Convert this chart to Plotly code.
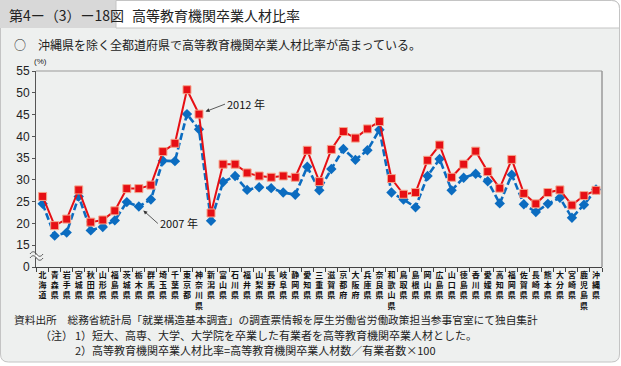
import plotly.graph_objects as go

prefectures = ["北海道", "青森県", "岩手県", "宮城県", "秋田県", "山形県", "福島県", "茨城県", "栃木県", "群馬県",
               "埼玉県", "千葉県", "東京都", "神奈川県", "新潟県", "富山県", "石川県", "福井県", "山梨県", "長野県",
               "岐阜県", "静岡県", "愛知県", "三重県", "滋賀県", "京都府", "大阪府", "兵庫県", "奈良県", "和歌山県",
               "鳥取県", "島根県", "岡山県", "広島県", "山口県", "徳島県", "香川県", "愛媛県", "高知県", "福岡県",
               "佐賀県", "長崎県", "熊本県", "大分県", "宮崎県", "鹿児島県", "沖縄県"]

rate_2012 = [26.2, 19.5, 21.0, 27.7, 20.3, 20.8, 22.9, 28.0, 28.0, 28.8,
             36.5, 38.4, 50.7, 45.1, 22.4, 33.6, 33.6, 31.6, 30.9, 30.6,
             30.9, 30.6, 36.8, 29.6, 37.0, 41.1, 39.6, 41.7, 43.4, 30.3,
             26.7, 27.1, 34.5, 38.0, 30.6, 33.6, 36.6, 31.9, 28.1, 34.7,
             26.9, 24.5, 27.1, 27.7, 24.2, 26.4, 27.6]

rate_2007 = [24.5, 17.2, 17.9, 26.2, 18.4, 19.2, 20.7, 24.9, 23.9, 25.5,
             34.4, 34.3, 45.1, 41.6, 20.6, 29.5, 30.9, 27.7, 28.3, 28.1,
             27.1, 26.6, 33.0, 27.6, 32.5, 37.1, 34.6, 36.8, 41.5, 27.1,
             25.5, 23.7, 30.9, 34.8, 27.6, 30.5, 31.4, 29.7, 24.6, 31.2,
             24.4, 22.6, 24.5, 25.9, 21.3, 24.3, 27.8]

# axis is broken: the bottom tick (shown as 0) sits where 10 would be
ytick_vals = [10, 15, 20, 25, 30, 35, 40, 45, 50, 55]
ytick_text = ["0", "15", "20", "25", "30", "35", "40", "45", "50", "55"]

# vertical (stacked) category labels
xtick_text = ["<br>".join(list(p)) for p in prefectures]

title_no = "第4ー（3）ー18図"
title_text = "高等教育機関卒業人材比率"
subtitle = "○　沖縄県を除く全都道府県で高等教育機関卒業人材比率が高まっている。"
source = "資料出所　総務省統計局「就業構造基本調査」の調査票情報を厚生労働省労働政策担当参事官室にて独自集計"
note_head = "（注）"
note1 = "1）短大、高専、大学、大学院を卒業した有業者を高等教育機関卒業人材とした。"
note2 = "2）高等教育機関卒業人材比率=高等教育機関卒業人材数／有業者数×100"

W, H = 621, 366
L, R, T, B = 36, 19, 71, 99
PW, PH = W - L - R, H - T - B


def px(x):
    return (x - L) / PW


def py(y):
    return 1 - (y - T) / PH


JP = "Noto Sans CJK JP"
BG = "#eef0ef"

fig = go.Figure()

fig.add_trace(go.Scatter(
    x=prefectures, y=rate_2007, mode="lines+markers", name="2007年",
    line=dict(color="#0b6cc0", width=2.6, dash="7px,3px"),
    marker=dict(symbol="diamond", size=8, color="#0b6cc0"),
    showlegend=False))
fig.add_trace(go.Scatter(
    x=prefectures, y=rate_2012, mode="lines+markers", name="2012年",
    line=dict(color="#e60f14", width=2),
    marker=dict(symbol="square", size=8, color="#e60f14", line=dict(color="#f5a58c", width=1)),
    showlegend=False))

shapes = []
# body frame
x0, x1, y0, y1, r = 0.5, 619.5, 0.5, 362, 8
body = (f"M {px(x0)},{py(y0)} L {px(x1 - r)},{py(y0)} Q {px(x1)},{py(y0)} {px(x1)},{py(y0 + r)} "
        f"L {px(x1)},{py(y1 - r)} Q {px(x1)},{py(y1)} {px(x1 - r)},{py(y1)} "
        f"L {px(x0 + r)},{py(y1)} Q {px(x0)},{py(y1)} {px(x0)},{py(y1 - r)} Z")
shapes.append(dict(type="path", xref="paper", yref="paper", path=body,
                   fillcolor=BG, line=dict(color="#c4c4c4", width=1), layer="below"))
# title tab
shapes.append(dict(type="rect", xref="paper", yref="paper", x0=px(0), x1=px(116), y0=py(0), y1=py(28),
                   fillcolor="#d8d8d8", line=dict(width=0), layer="below"))
tb = (f"M {px(116)},{py(0.5)} L {px(x1 - r)},{py(0.5)} Q {px(x1)},{py(0.5)} {px(x1)},{py(0.5 + r)} "
      f"L {px(x1)},{py(28)} L {px(116)},{py(28)} Z")
shapes.append(dict(type="path", xref="paper", yref="paper", path=tb,
                   fillcolor="white", line=dict(color="#c4c4c4", width=1), layer="below"))
# plot border top and right
shapes.append(dict(type="line", xref="paper", yref="paper", x0=0, x1=1, y0=1, y1=1,
                   line=dict(color="#9a9a9a", width=1.2)))
shapes.append(dict(type="line", xref="paper", yref="paper", x0=1, x1=1, y0=0, y1=1,
                   line=dict(color="#9a9a9a", width=1.5)))
# axis break
shapes.append(dict(type="rect", xref="paper", yref="paper", x0=px(33), x1=px(36), y0=py(254.5), y1=py(257.5),
                   fillcolor=BG, line=dict(width=0), layer="above"))
shapes.append(dict(type="rect", xref="paper", yref="paper", x0=px(36), x1=px(39), y0=py(254.5), y1=py(257.5),
                   fillcolor="white", line=dict(width=0), layer="above"))
for yy in (254, 258):
    wave = (f"M {px(30)},{py(yy)} C {px(32)},{py(yy - 3)} {px(34.5)},{py(yy - 3)} {px(36.5)},{py(yy)} "
            f"C {px(38.5)},{py(yy + 3)} {px(41)},{py(yy + 3)} {px(43)},{py(yy)}")
    shapes.append(dict(type="path", xref="paper", yref="paper", path=wave,
                       line=dict(color="#555", width=1), layer="above"))

ann = []


def txt(x, y, s, size, color="#222", font=JP, anchor="left", weight="normal"):
    ann.append(dict(x=px(x), y=py(y), xref="paper", yref="paper", text=s, showarrow=False,
                    xanchor=anchor, yanchor="middle",
                    font=dict(family=font, size=size, color=color, weight=weight)))


txt(7, 14.5, title_no, 14)
txt(130, 14.5, title_text, 14)
txt(12, 44, subtitle, 12)
txt(40, 61.5, "(%)", 8, font="Arial", anchor="center")
txt(12, 319, source, 10.7)
txt(38, 335, note_head, 11)
txt(73, 335, note1, 11)
txt(73, 350, note2, 11)

# year call-outs
i12 = prefectures.index("神奈川県")
ann.append(dict(x=prefectures[i12], y=rate_2012[i12], xref="x", yref="y", text="2012 年",
                showarrow=True, arrowhead=2, arrowsize=1, arrowwidth=0.8, arrowcolor="#333",
                ax=26, ay=-10, standoff=7, xanchor="left", yanchor="middle",
                font=dict(family=JP, size=11, color="#111")))
i07 = prefectures.index("栃木県")
ann.append(dict(x=prefectures[i07], y=rate_2007[i07], xref="x", yref="y", text="2007 年",
                showarrow=True, arrowhead=2, arrowsize=1, arrowwidth=0.8, arrowcolor="#333",
                ax=19, ay=17, standoff=6, xanchor="left", yanchor="middle",
                font=dict(family=JP, size=11, color="#111")))

fig.update_layout(
    width=W, height=H, margin=dict(l=L, r=R, t=T, b=B, pad=0),
    paper_bgcolor="white", plot_bgcolor="white",
    shapes=shapes, annotations=ann,
    xaxis=dict(type="category", range=[-0.55, len(prefectures) - 0.5], showgrid=False, zeroline=False,
               showline=True, linecolor="#444", linewidth=1, ticks="outside", tickson="boundaries",
               ticklen=4, tickcolor="#444", tickvals=prefectures, ticktext=xtick_text, tickangle=0,
               tickfont=dict(family=JP, size=8, color="#111", weight="bold"), fixedrange=True),
    yaxis=dict(range=[10, 55], tickvals=ytick_vals, ticktext=ytick_text, showgrid=False, zeroline=False,
               showline=True, linecolor="#555", linewidth=1, ticks="outside", ticklen=3, tickcolor="#555",
               tickfont=dict(family="Arial", size=12, color="#222"), fixedrange=True),
)

fig.write_html("out.html", config={"displayModeBar": False},
               post_script="document.body.style.margin='0';document.body.style.padding='0';")
